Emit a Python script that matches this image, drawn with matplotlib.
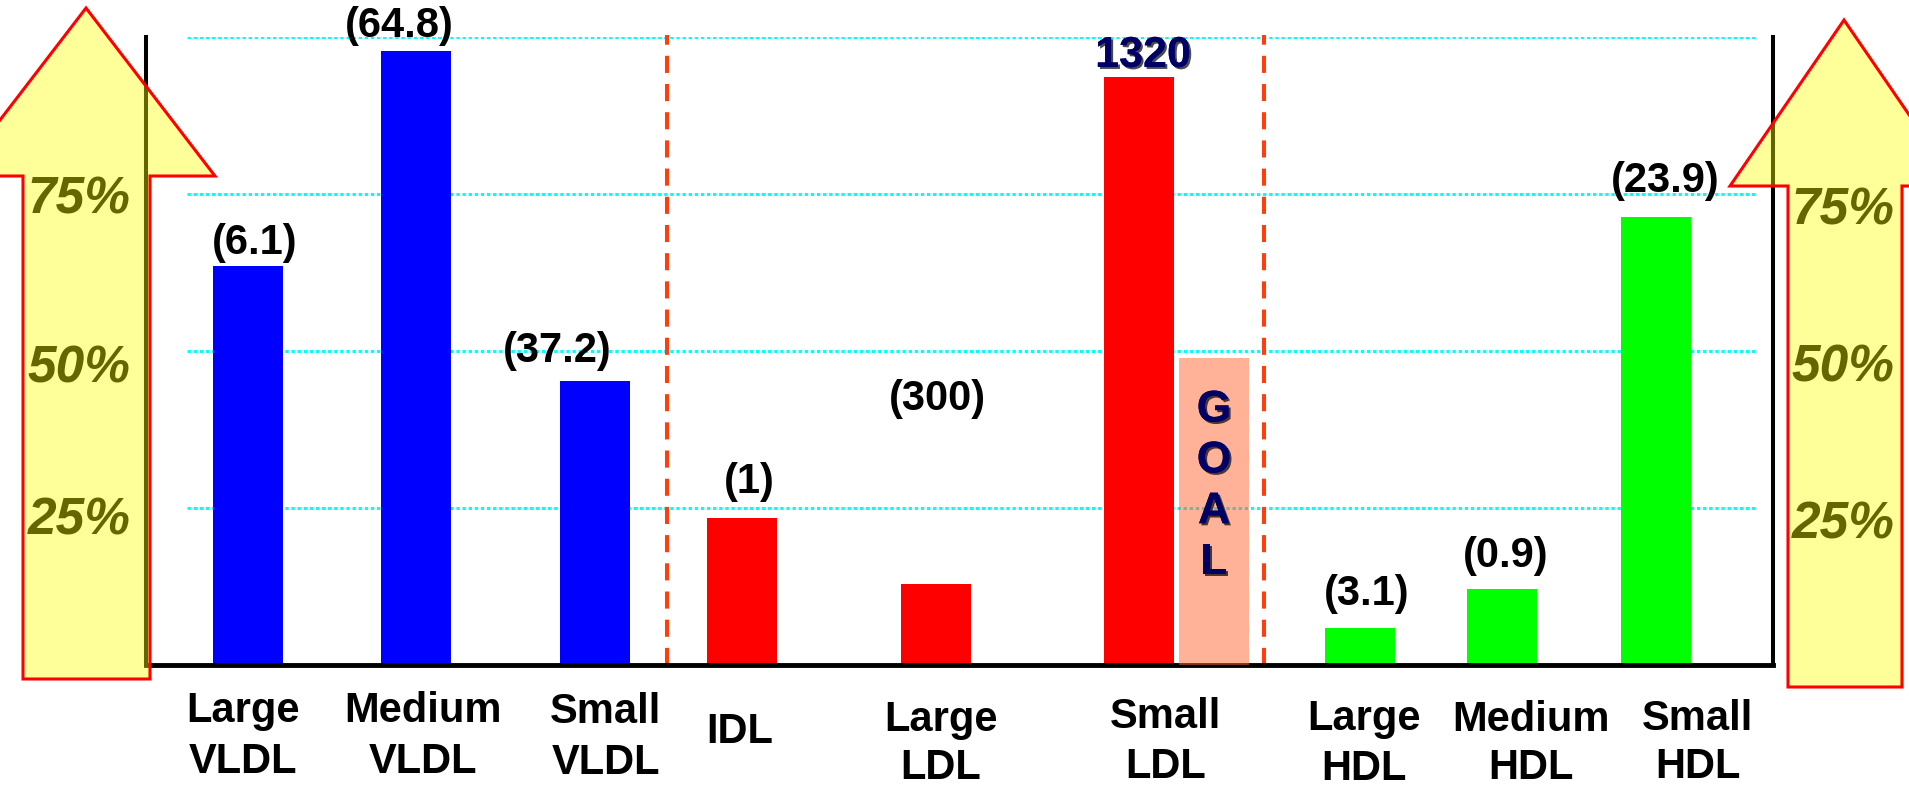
import matplotlib
matplotlib.use("Agg")
import matplotlib.pyplot as plt
import matplotlib.patheffects as pe
from matplotlib.patches import Polygon

plt.rcParams['font.family'] = ['Liberation Sans', 'DejaVu Sans']

W, H = 1909, 790

# lipoprotein subclasses and their bar heights (percent scale)
categories = ["Large\nVLDL", "Medium\nVLDL", "Small\nVLDL", "IDL", "Large\nLDL",
              "Small\nLDL", "Large\nHDL", "Medium\nHDL", "Small\nHDL"]
percent = [63.5, 97.8, 45.2, 23.4, 12.9, 93.6, 5.9, 12.1, 71.3]
counts = ["(6.1)", "(64.8)", "(37.2)", "(1)", "(300)", "1320", "(3.1)", "(0.9)", "(23.9)"]
goal_percent = 48.9
goal_text = "GOAL"
grid_levels = [25, 50, 75, 100]
scale_labels = ["75%", "50%", "25%"]

colors = ["#0000FF"] * 3 + ["#FF0000"] * 3 + ["#00FF00"] * 3

# layout (x in pixels from the left spine)
bar_x = [102, 270, 449, 596, 790, 993, 1214, 1356, 1510]
goal_x = 1068
bar_w = 70
divider_x = [521, 1118]
count_x = [109, 253, 411, 603, 791, 997, 1221, 1360, 1519]
count_y = [67.2, 101.8, 50.0, 29.1, 42.4, 97.0, 11.3, 17.3, 77.1]
label_x = [243, 423, 606, 740, 941, 1166, 1364, 1531, 1698]
label_base = [722, 722, 723, 743, 731, 728, 730, 731, 730]
label_gap = [51, 51, 51, 0, 48, 50, 50, 48, 48]

fig = plt.figure(figsize=(W / 100, H / 100), dpi=100)
fig.patch.set_facecolor("white")

ax = fig.add_axes([146 / W, 125 / H, 1627 / W, 628 / H])
ax.set_xlim(0, 1627)
ax.set_ylim(0, 100)
ax.set_xticks([])
ax.set_yticks([])
ax.spines['top'].set_visible(False)
for s in ['left', 'right']:
    ax.spines[s].set_linewidth(2.9)
ax.spines['bottom'].set_linewidth(3.5)

ax.hlines(grid_levels, 41, 1609, colors="#00FFFF", lw=2.2,
          linestyles=[(0, (1.1, 0.9))], zorder=1)
ax.vlines(divider_x, 0, 100.3, colors="#FF3D0D", lw=2.9,
          linestyles=[(0, (4.25, 2.75))], zorder=1, clip_on=False)

ax.bar(bar_x, percent, width=bar_w, color=colors, zorder=2)
ax.bar(goal_x, goal_percent, width=bar_w, color="#FF6633", alpha=0.5, zorder=3)

shadow = [pe.withSimplePatchShadow(offset=(1.5, -1.5), shadow_rgbFace="black", alpha=0.7),
          pe.Normal()]
for i, txt in enumerate(counts):
    if txt == "1320":
        ax.text(count_x[i], count_y[i], txt, ha='center', va='center', fontsize=31,
                fontweight='bold', color="#000066", path_effects=shadow, clip_on=False)
    else:
        ax.text(count_x[i], count_y[i], txt, ha='center', va='center', fontsize=30,
                fontweight='bold', color="black", clip_on=False)

for k, ch in enumerate(goal_text):
    ax.text(goal_x, 40.6 - 8.1 * k, ch, ha='center', va='center', fontsize=32,
            fontweight='bold', color="#000066", path_effects=shadow)

# overlay in pixel coordinates for the arrows and the labels below the axis
ov = fig.add_axes([0, 0, 1, 1], zorder=5)
ov.set_xlim(0, W)
ov.set_ylim(H, 0)
ov.axis('off')
ov.patch.set_alpha(0)

arrows = [
    [(86, 8), (215, 176), (150, 176), (150, 679), (23, 679), (23, 176), (-43, 176)],
    [(1844, 20), (1958, 186), (1902, 186), (1902, 687), (1788, 687), (1788, 186), (1730, 186)],
]
for pts in arrows:
    ov.add_patch(Polygon(pts, closed=True, facecolor=(1, 1, 0, 0.4),
                         edgecolor="#FF0000", lw=2.2, zorder=1))

for cx, ys in [(79, [200, 369, 521]), (1843, [211, 368, 525])]:
    for lab, y in zip(scale_labels, ys):
        ov.text(cx, y, lab, ha='center', va='center', fontsize=37,
                fontweight='bold', fontstyle='italic', color="#666600", zorder=3)

for lab, x, yb, gap in zip(categories, label_x, label_base, label_gap):
    for j, line in enumerate(lab.split("\n")):
        ov.text(x, yb + gap * j, line, ha='center', va='baseline', fontsize=30,
                fontweight='bold', color="black", zorder=3)

fig.savefig("out.png", dpi=100, facecolor="white")
